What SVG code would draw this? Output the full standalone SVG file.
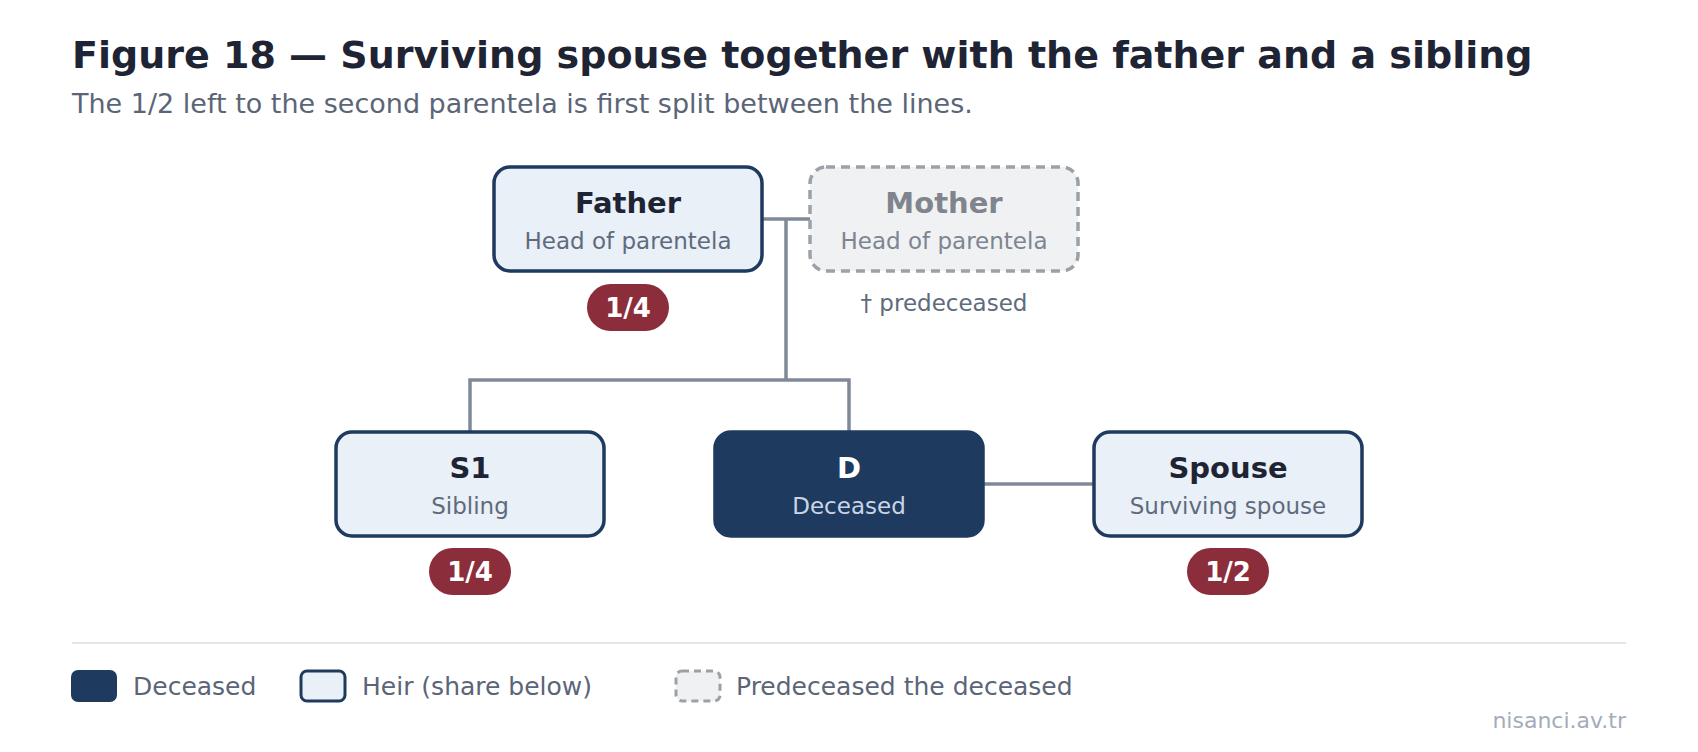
<svg xmlns="http://www.w3.org/2000/svg" width="1698" height="752" viewBox="0 0 1698 752">
<style>
text{font-family:"DejaVu Sans",Verdana,sans-serif}
.title{font-size:38px;font-weight:bold;fill:#1e2433}
.subtitle{font-size:27px;fill:#5b6577}
.heir{fill:#e9f0f8;stroke:#1f3a5f;stroke-width:3.5}
.dec{fill:#1f3a5f;stroke:#1f3a5f;stroke-width:3.5}
.pre{fill:#f0f1f3;stroke:#9ca0a7;stroke-width:3.5;stroke-dasharray:9 6}
.nt{font-size:29px;font-weight:bold;fill:#1e2433;text-anchor:middle}
.ns{font-size:23px;fill:#5f6b7c;text-anchor:middle}
.badge{fill:#8b2d3a}
.bt{font-size:26px;font-weight:bold;fill:#ffffff;text-anchor:middle}
.conn{fill:none;stroke:#7f8a99;stroke-width:3.5}
.leg{font-size:25px;fill:#5b6577}
</style>
<text class="title" x="72" y="68">Figure 18 — Surviving spouse together with the father and a sibling</text>
<text class="subtitle" x="72" y="113">The 1/2 left to the second parentela is first split between the lines.</text>
<g id="connectors">
<path class="conn" d="M762 219 H810"/>
<path class="conn" d="M786 219 V380"/>
<path class="conn" d="M470 432 V380 H849 V432"/>
<path class="conn" d="M983 484 H1094"/>
</g>
<g id="father">
<rect class="heir" x="494" y="167" width="268" height="104" rx="16"/>
<text class="nt" x="628" y="213">Father</text>
<text class="ns" x="628" y="249">Head of parentela</text>
<rect class="badge" x="587" y="284" width="82" height="47" rx="23.5"/>
<text class="bt" x="628" y="317">1/4</text>
</g>
<g id="mother">
<rect class="pre" x="810" y="167" width="268" height="104" rx="16"/>
<text class="nt" x="944" y="213" style="fill:#80858d">Mother</text>
<text class="ns" x="944" y="249" style="fill:#7c8591">Head of parentela</text>
<text class="ns" x="944" y="311">† predeceased</text>
</g>
<g id="s1">
<rect class="heir" x="336" y="432" width="268" height="104" rx="16"/>
<text class="nt" x="470" y="478">S1</text>
<text class="ns" x="470" y="514">Sibling</text>
<rect class="badge" x="429" y="548" width="82" height="47" rx="23.5"/>
<text class="bt" x="470" y="581">1/4</text>
</g>
<g id="d">
<rect class="dec" x="715" y="432" width="268" height="104" rx="16"/>
<text class="nt" x="849" y="478" style="fill:#ffffff">D</text>
<text class="ns" x="849" y="514" style="fill:#c9d5e6">Deceased</text>
</g>
<g id="spouse">
<rect class="heir" x="1094" y="432" width="268" height="104" rx="16"/>
<text class="nt" x="1228" y="478">Spouse</text>
<text class="ns" x="1228" y="514">Surviving spouse</text>
<rect class="badge" x="1187" y="548" width="82" height="47" rx="23.5"/>
<text class="bt" x="1228" y="581">1/2</text>
</g>
<g id="legend">
<line x1="72" y1="643" x2="1626" y2="643" stroke="#e2e6ea" stroke-width="2"/>
<rect class="dec" x="72" y="671" width="44" height="30" rx="6" style="stroke-width:2"/>
<text class="leg" x="133" y="695">Deceased</text>
<rect class="heir" x="301" y="671" width="44" height="30" rx="6" style="stroke-width:3"/>
<text class="leg" x="362" y="695">Heir (share below)</text>
<rect class="pre" x="676" y="671" width="44" height="30" rx="6" style="stroke-width:3;stroke-dasharray:7 5"/>
<text class="leg" x="736" y="695">Predeceased the deceased</text>
</g>
<text x="1626" y="728" style="font-size:22px;fill:#a3adba;text-anchor:end">nisanci.av.tr</text>
</svg>
